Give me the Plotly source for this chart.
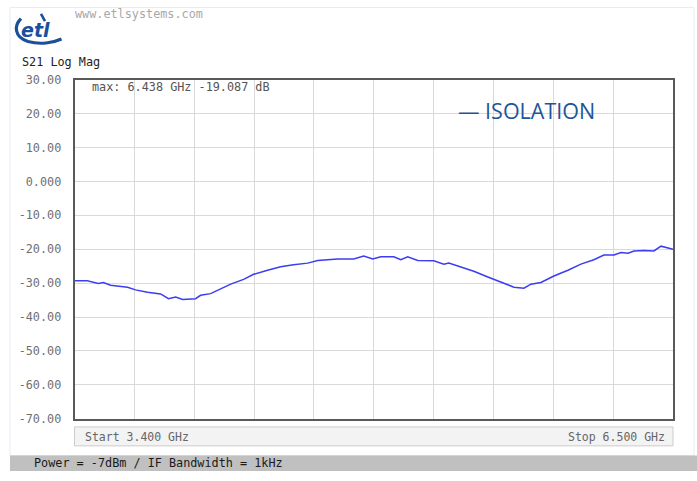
import plotly.graph_objects as go

# ---- data ----
freq_ghz = [3.400, 3.466, 3.524, 3.550, 3.587, 3.675, 3.716, 3.778, 3.846, 3.887,
            3.924, 3.960, 4.027, 4.053, 4.105, 4.146, 4.209, 4.276, 4.328, 4.400,
            4.468, 4.535, 4.608, 4.660, 4.712, 4.763, 4.846, 4.898, 4.945, 4.986,
            5.054, 5.090, 5.126, 5.178, 5.261, 5.313, 5.339, 5.401, 5.468, 5.541,
            5.608, 5.676, 5.728, 5.764, 5.816, 5.883, 5.956, 6.023, 6.090, 6.142,
            6.194, 6.230, 6.267, 6.298, 6.350, 6.401, 6.438, 6.500]
s21_db = [-29.3, -29.3, -30.1, -29.8, -30.6, -31.2, -32.0, -32.7, -33.2, -34.6,
          -34.1, -34.8, -34.6, -33.6, -33.1, -31.9, -30.3, -28.9, -27.4, -26.2,
          -25.2, -24.6, -24.1, -23.3, -23.1, -22.9, -22.9, -22.0, -22.9, -22.2,
          -22.2, -23.1, -22.2, -23.3, -23.4, -24.4, -24.1, -25.2, -26.5, -28.2,
          -29.8, -31.2, -31.5, -30.3, -29.8, -27.9, -26.2, -24.4, -23.1, -21.7,
          -21.7, -21.0, -21.2, -20.5, -20.4, -20.5, -19.09, -20.0]
y_tick_vals = [30, 20, 10, 0, -10, -20, -30, -40, -50, -60, -70]
y_tick_text = ["30.00", "20.00", "10.00", "0.000", "-10.00", "-20.00",
               "-30.00", "-40.00", "-50.00", "-60.00", "-70.00"]
series_name = "ISOLATION"
start_ghz, stop_ghz = 3.400, 6.500
marker_freq, marker_val = 6.438, -19.087

W, H = 697, 481
def px(x):
    return x / W
def py(y):
    return 1 - y / H

MONO = "DejaVu Sans Mono"

fig = go.Figure()
fig.add_trace(go.Scatter(x=freq_ghz, y=s21_db, mode="lines",
                         line=dict(color="#3c3cf2", width=1.5),
                         name=series_name, showlegend=False, hoverinfo="skip"))

fig.update_layout(
    width=W, height=H, autosize=False,
    margin=dict(l=0, r=0, t=0, b=0),
    paper_bgcolor="white", plot_bgcolor="white",
    xaxis=dict(domain=[px(74.5), px(673)], range=[start_ghz, stop_ghz],
               tick0=start_ghz, dtick=(stop_ghz - start_ghz) / 10,
               showgrid=True, gridcolor="#d9d9d9", gridwidth=1,
               showticklabels=False, ticks="", zeroline=False,
               showline=True, mirror=True, linecolor="#595959", linewidth=1.7),
    yaxis=dict(domain=[py(424), py(75)], range=[-70, 30],
               tickvals=y_tick_vals, ticktext=y_tick_text,
               showgrid=True, gridcolor="#d9d9d9", gridwidth=1,
               ticks="", zeroline=False, ticklabelstandoff=9,
               tickfont=dict(family=MONO, size=11.8, color="#707070"),
               showline=True, mirror=True, linecolor="#595959", linewidth=1.7),
)

shapes = []
# outer frame
shapes.append(dict(type="rect", xref="paper", yref="paper",
                   x0=px(10), x1=px(694), y0=py(462), y1=py(0.5),
                   line=dict(color="#e6ecf3", width=1), fillcolor="rgba(0,0,0,0)", layer="below"))
# bottom gray bar
shapes.append(dict(type="rect", xref="paper", yref="paper",
                   x0=px(10), x1=px(697), y0=py(478), y1=py(462),
                   line=dict(width=0), fillcolor="#c0c0c0", layer="below"))
# start/stop box
shapes.append(dict(type="rect", xref="paper", yref="paper",
                   x0=px(74.5), x1=px(673), y0=py(452), y1=py(432.5),
                   line=dict(color="#cccccc", width=1), fillcolor="#f3f3f3", layer="below"))
# logo swoosh
def P(x, y):
    return f"{px(x):.5f},{py(y):.5f}"
swoosh = (f"M {P(21, 12)} C {P(14, 19)} {P(14, 31)} {P(28, 35.5)} "
          f"C {P(40, 39)} {P(53, 37)} {P(61.5, 33)}")
shapes.append(dict(type="path", xref="paper", yref="paper", path=swoosh,
                   line=dict(color="#1b4f9c", width=3.2)))
shapes.append(dict(type="line", xref="paper", yref="paper",
                   x0=px(41), y0=py(7), x1=px(45), y1=py(14.5),
                   line=dict(color="#1b4f9c", width=2.6)))
fig.update_layout(shapes=shapes)

ann = []
ann.append(dict(x=px(35), y=py(23.5), xref="paper", yref="paper", text="<b><i>etl</i></b>",
                showarrow=False, xanchor="center", yanchor="middle",
                font=dict(family="DejaVu Sans", size=19, color="#1b4f9c")))
ann.append(dict(x=px(73), y=py(7), xref="paper", yref="paper", text="www.etlsystems.com",
                showarrow=False, xanchor="left", yanchor="middle",
                font=dict(family=MONO, size=11.8, color="#a8a8a8")))
ann.append(dict(x=px(20), y=py(57), xref="paper", yref="paper", text="S21 Log Mag",
                showarrow=False, xanchor="left", yanchor="middle",
                font=dict(family=MONO, size=11.8, color="#222222")))
ann.append(dict(x=px(90), y=py(82), xref="paper", yref="paper",
                text=f"max: {marker_freq:.3f} GHz {marker_val:.3f} dB",
                showarrow=False, xanchor="left", yanchor="middle",
                font=dict(family=MONO, size=11.8, color="#555555")))
ann.append(dict(x=px(456), y=py(107), xref="paper", yref="paper",
                text=f"— {series_name}",
                showarrow=False, xanchor="left", yanchor="middle",
                font=dict(family="Open Sans", size=21.5, color="#1f5596")))
ann.append(dict(x=px(83), y=py(443), xref="paper", yref="paper",
                text=f"Start {start_ghz:.3f} GHz",
                showarrow=False, xanchor="left", yanchor="middle",
                font=dict(family=MONO, size=11.5, color="#666666")))
ann.append(dict(x=px(667), y=py(443), xref="paper", yref="paper",
                text=f"Stop {stop_ghz:.3f} GHz",
                showarrow=False, xanchor="right", yanchor="middle",
                font=dict(family=MONO, size=11.5, color="#666666")))
ann.append(dict(x=px(32), y=py(470), xref="paper", yref="paper",
                text="Power = -7dBm / IF Bandwidth = 1kHz",
                showarrow=False, xanchor="left", yanchor="middle",
                font=dict(family=MONO, size=11.8, color="#1a1a1a")))
fig.update_layout(annotations=ann)

fig.write_html("out.html", config={"displayModeBar": False},
               post_script="document.body.style.margin='0';document.body.style.overflow='hidden';")
